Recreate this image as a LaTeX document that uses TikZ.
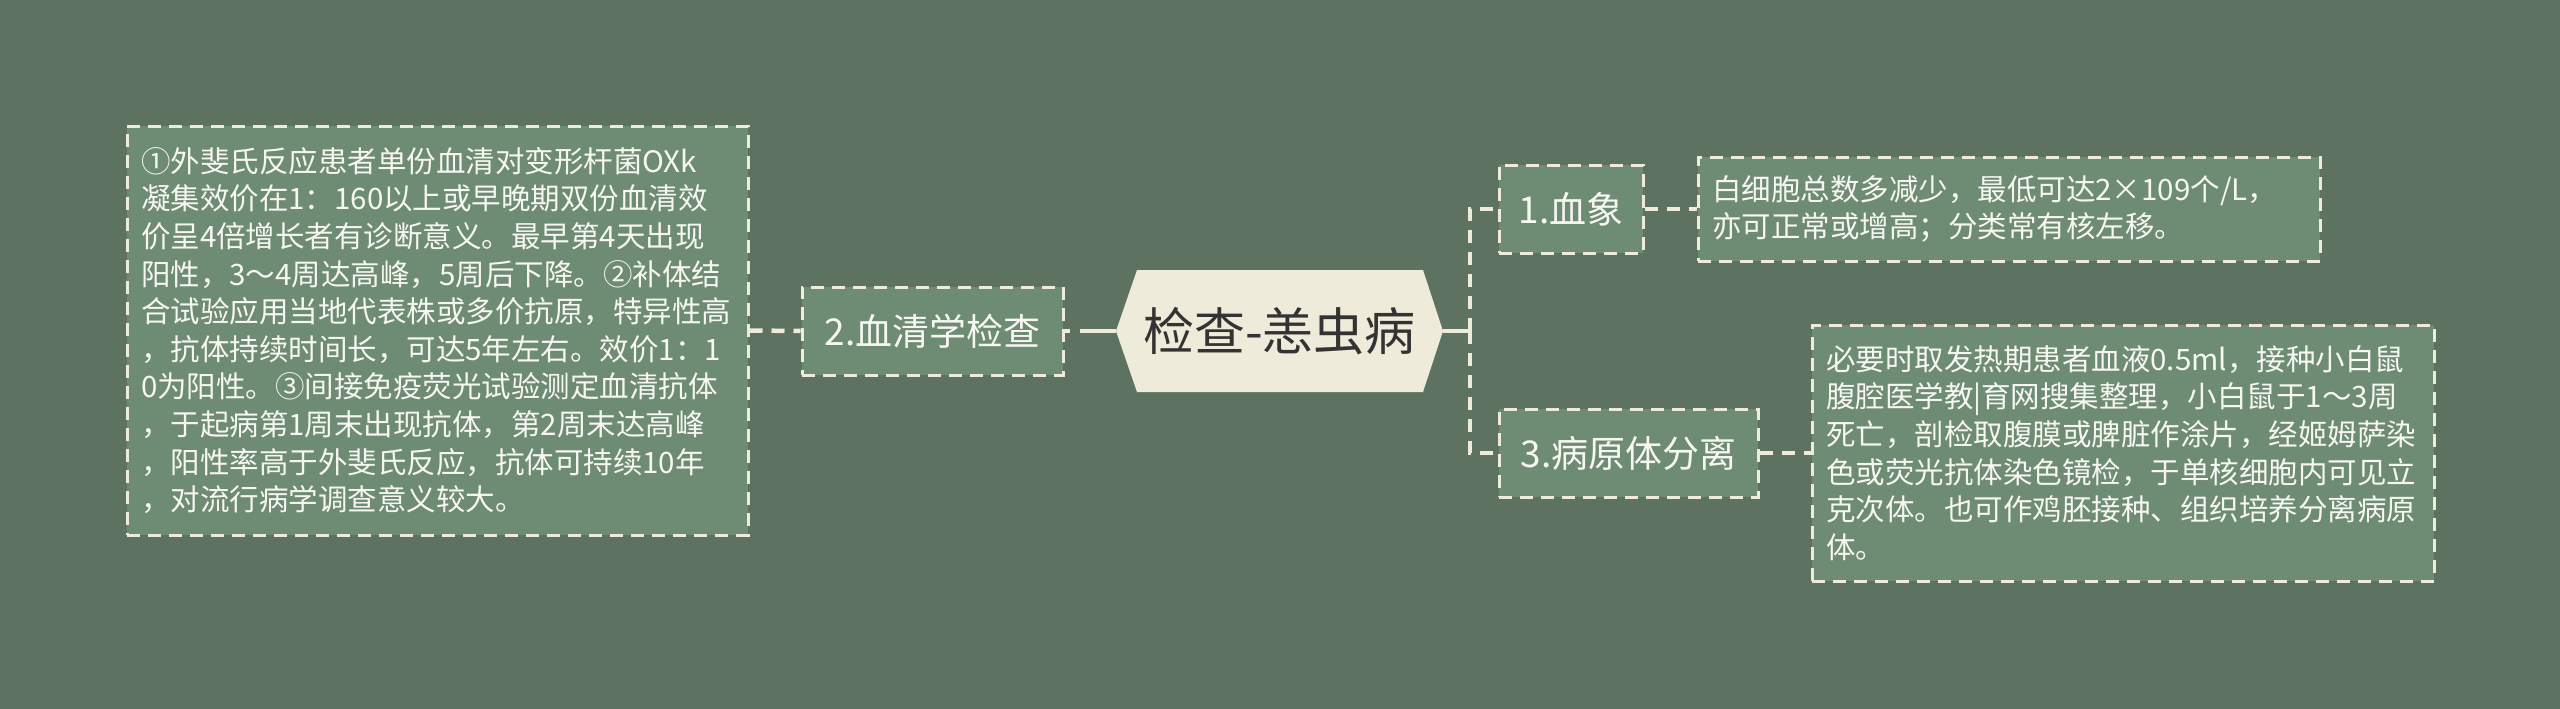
\documentclass[tikz,border=0pt]{standalone}
\usepackage{fontspec}
\setmainfont{Noto Sans CJK SC}
\definecolor{bg}{HTML}{5E7262}
\definecolor{boxfill}{HTML}{6E8B74}
\definecolor{cream}{HTML}{EFEBDA}
\definecolor{txt}{HTML}{F7F7F2}
\definecolor{dark}{HTML}{333333}
\begin{document}
\begin{tikzpicture}[x=1pt,y=-1pt,
  box/.style={draw=cream, line width=3pt, dash pattern=on 13pt off 8pt, fill=boxfill, text=txt, inner sep=0pt},
  lbl/.style={box, font=\fontsize{37}{44}\selectfont, minimum height=88pt},
  note/.style={box, font=\fontsize{29.5}{37.6}\selectfont, align=left, text width=594pt, inner xsep=14pt},
  conn/.style={draw=cream, line width=4.5pt, dash pattern=on 13pt off 9pt},
  solidconn/.style={draw=cream, line width=4.5pt},
  hexnode/.style={minimum width=327pt, minimum height=122pt, inner sep=0pt, text=dark, fill=bg,
    font=\fontsize{51}{60}\selectfont,
    path picture={\fill[cream] (path picture bounding box.west)
      -- ([xshift=21pt]path picture bounding box.north west)
      -- ([xshift=-20pt]path picture bounding box.north east)
      -- (path picture bounding box.east)
      -- ([xshift=-20pt]path picture bounding box.south east)
      -- ([xshift=21pt]path picture bounding box.south west) -- cycle;}}]
\useasboundingbox (0,0) rectangle (2560,709);
\fill[bg] (0,0) rectangle (2560,709);

\node[note, minimum height=409pt, text width=593pt] (L) at (437.5,330.5) {①外斐氏反应患者单份血清对变形杆菌OXk\\凝集效价在1：160以上或早晚期双份血清效\\价呈4倍增长者有诊断意义。最早第4天出现\\阳性，3～4周达高峰，5周后下降。②补体结\\合试验应用当地代表株或多价抗原，特异性高\\，抗体持续时间长，可达5年左右。效价1：1\\0为阳性。③间接免疫荧光试验测定血清抗体\\，于起病第1周末出现抗体，第2周末达高峰\\，阳性率高于外斐氏反应，抗体可持续10年\\，对流行病学调查意义较大。};
\node[lbl, minimum width=261pt] (B2) at (932.5,331) {2.血清学检查};
\node[hexnode] (C) at (1279.5,331) {检查-恙虫病};
\coordinate (J) at (1470,331);
\node[lbl, minimum width=144pt] (B1) at (1571,209) {1.血象};
\node[note, minimum height=104pt] (T1) at (2009,209) {白细胞总数多减少，最低可达2×109个/L，\\亦可正常或增高；分类常有核左移。};
\node[lbl, minimum width=259pt] (B3) at (1628.5,453) {3.病原体分离};
\node[note, minimum height=256pt] (T3) at (2123,453) {必要时取发热期患者血液0.5ml，接种小白鼠\\腹腔医学教|育网搜集整理，小白鼠于1～3周\\死亡，剖检取腹膜或脾脏作涂片，经姬姆萨染\\色或荧光抗体染色镜检，于单核细胞内可见立\\克次体。也可作鸡胚接种、组织培养分离病原\\体。};

\draw[conn] (L.east) -- (B2.west);
\draw[solidconn, dash pattern=on 5pt off 10pt on 100pt off 1pt] (B2.east) -- (C.west);
\draw[solidconn] (C.east) -- (J);
\draw[conn] (J) |- (B1.west);
\draw[conn] (J) |- (B3.west);
\draw[conn] (B1.east) -- (T1.west);
\draw[conn] (B3.east) -- (T3.west);
\end{tikzpicture}
\end{document}
